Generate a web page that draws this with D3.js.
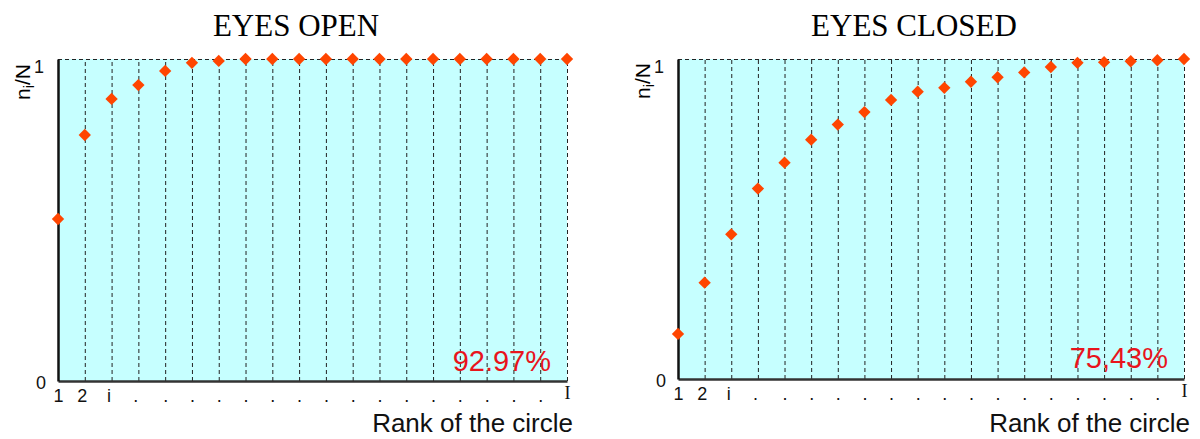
<!DOCTYPE html>
<html>
<head>
<meta charset="utf-8">
<script src="https://cdn.jsdelivr.net/npm/d3@7"></script>
<style>
  body { margin: 0; background: #fff; }
  svg { display: block; }
  .sans { font-family: "Liberation Sans", Arial, Helvetica, sans-serif; }
  .serif { font-family: "Liberation Serif", "Times New Roman", serif; }
</style>
</head>
<body>
<div id="chart"></div>
<script>
// rank of the circle (1 .. I)
const ranks = [1, 2, 3, 4, 5, 6, 7, 8, 9, 10, 11, 12, 13, 14, 15, 16, 17, 18, 19, 20];
const tickLabels = ['1', '2', 'i', '.', '.', '.', '.', '.', '.', '.', '.', '.', '.', '.', '.', '.', '.', '.', '.', 'I'];

// cumulative proportion ni/N
const eyesOpen = [0.503, 0.764, 0.876, 0.919, 0.963, 0.988, 0.994, 1, 1, 1, 1, 1, 1, 1, 1, 1, 1, 1, 1, 1];
const eyesClosed = [0.141, 0.301, 0.452, 0.595, 0.676, 0.748, 0.795, 0.834, 0.872, 0.898,
                    0.910, 0.929, 0.943, 0.958, 0.975, 0.988, 0.990, 0.993, 0.996, 1];

const titles = ['EYES OPEN', 'EYES CLOSED'];
const percents = ['92.97%', '75,43%'];
const yTicks = [0, 1];

const width = 1200, height = 439;

const svg = d3.select('#chart').append('svg')
    .attr('width', width)
    .attr('height', height);

// tick labels are cut off at the bottom in the original figure
svg.append('clipPath').attr('id', 'tickclip')
    .append('rect').attr('x', 0).attr('y', 0).attr('width', width).attr('height', 402);

const panels = [
    { values: eyesOpen, left: 58, right: 567, top: 59, bottom: 381, titleX: 296, pctY: 371 },
    { values: eyesClosed, left: 678, right: 1184, top: 59, bottom: 379, titleX: 914, pctY: 368 }
];

panels.forEach((p, k) => {
    const x = d3.scaleLinear().domain([1, 20]).range([p.left, p.right]);
    const y = d3.scaleLinear().domain([0, 1]).range([p.bottom, p.top]);
    const g = svg.append('g');

    // title
    g.append('text')
        .attr('class', 'serif')
        .attr('x', p.titleX).attr('y', 36)
        .attr('text-anchor', 'middle')
        .style('font-size', '31px')
        .text(titles[k]);

    // plot background
    g.append('rect')
        .attr('x', x(1)).attr('y', y(1))
        .attr('width', x(20) - x(1)).attr('height', y(0) - y(1))
        .attr('fill', '#c6ffff');

    // dashed grid
    g.selectAll('.vgrid')
        .data(ranks.slice(1))
        .enter().append('line')
        .attr('class', 'vgrid')
        .attr('x1', d => x(d) + 0.5).attr('x2', d => x(d) + 0.5)
        .attr('y1', y(0)).attr('y2', y(1))
        .attr('stroke', '#222').attr('stroke-width', 1)
        .attr('stroke-dasharray', '4,3');
    g.append('line')
        .attr('x1', x(1)).attr('x2', x(20))
        .attr('y1', y(1) + 0.5).attr('y2', y(1) + 0.5)
        .attr('stroke', '#222').attr('stroke-width', 1)
        .attr('stroke-dasharray', '4,3');

    // x axis (outer group carries the clip so it is in page coordinates)
    const xAxis = g.append('g')
        .attr('clip-path', 'url(#tickclip)')
        .append('g')
        .attr('transform', `translate(0, ${y(0)})`)
        .call(d3.axisBottom(x).tickValues(ranks).tickSize(0).tickPadding(8)
            .tickFormat((d, i) => tickLabels[i]));
    xAxis.select('.domain').attr('stroke', '#333').attr('stroke-width', 2.5);
    xAxis.selectAll('.tick text')
        .attr('class', (d, i) => i === ranks.length - 1 ? 'serif' : 'sans')
        .attr('fill', '#111')
        .style('font-size', '18px')
        .attr('dx', (d, i) => (i > 0 && i < 4) ? -3 : 0)
        .attr('dy', (d, i) => i === ranks.length - 1 ? '0.55em' : '0.71em');

    // y axis
    const yAxis = g.append('g')
        .attr('transform', `translate(${x(1)}, 0)`)
        .call(d3.axisLeft(y).tickValues(yTicks).tickSize(0).tickPadding(12)
            .tickFormat(d3.format('d')));
    yAxis.select('.domain').attr('stroke', '#111').attr('stroke-width', 2.5);
    yAxis.selectAll('.tick text')
        .attr('class', 'sans')
        .attr('fill', '#111')
        .style('font-size', '18px')
        .attr('dx', d => d === 1 ? -2 : 0)
        .attr('dy', d => d === 1 ? '0.75em' : '0.4em');

    // y label  ni/N
    const yl = g.append('text')
        .attr('class', 'sans')
        .attr('transform', `translate(${x(1) - 28}, ${(k === 0 ? 82 : 81)}) rotate(-90)`)
        .attr('text-anchor', 'middle')
        .style('font-size', '21px');
    yl.append('tspan').text('n');
    yl.append('tspan').attr('dy', 4).style('font-size', '14px').text('i');
    yl.append('tspan').attr('dy', -4).text('/N');

    // markers
    g.selectAll('.pt')
        .data(p.values)
        .enter().append('path')
        .attr('class', 'pt')
        .attr('d', d3.symbol().type(d3.symbolSquare).size(76))
        .attr('transform', (d, i) => `translate(${x(ranks[i])}, ${y(d)}) rotate(45)`)
        .attr('fill', '#ff4500');

    // percentage
    g.append('text')
        .attr('class', 'sans')
        .attr('x', x(20) - 16).attr('y', p.pctY)
        .attr('text-anchor', 'end')
        .attr('fill', '#e8141c')
        .style('font-size', '29px')
        .text(percents[k]);

    // x label
    g.append('text')
        .attr('class', 'sans')
        .attr('x', x(20) + 6).attr('y', 432)
        .attr('text-anchor', 'end')
        .attr('fill', '#111')
        .style('font-size', '26px')
        .text('Rank of the circle');
});
</script>
</body>
</html>
